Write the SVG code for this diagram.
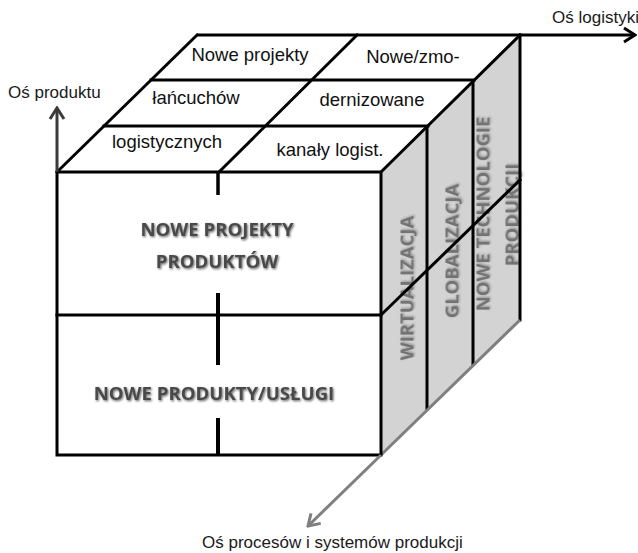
<svg xmlns="http://www.w3.org/2000/svg" width="638" height="553" viewBox="0 0 638 553">
  <style>
    .edge { fill: none; stroke: #000; stroke-width: 3; stroke-linecap: square; }
    .axis-label { font-family: "Liberation Sans", Arial, sans-serif; font-size: 17px; fill: #1a1a1a; }
    .top-label { font-family: "Liberation Sans", Arial, sans-serif; font-size: 18.5px; fill: #111; text-anchor: middle; }
    .face-label { font-family: "Open Sans", "Liberation Sans", sans-serif; font-weight: bold; font-size: 18.6px; fill: #4a4a4a; text-anchor: middle; filter: url(#shade); }
    .side-label { font-family: "Open Sans", "Liberation Sans", sans-serif; font-weight: bold; font-size: 18.5px; fill: #737373; text-anchor: middle; filter: url(#shade-soft); }
  </style>
  <defs>
    <filter id="shade" x="-10%" y="-40%" width="120%" height="180%">
      <feDropShadow dx="1" dy="1.2" stdDeviation="1.2" flood-color="#000" flood-opacity="0.6"/>
    </filter>
    <filter id="shade-soft" x="-40%" y="-10%" width="180%" height="120%">
      <feDropShadow dx="1" dy="1" stdDeviation="0.8" flood-color="#000" flood-opacity="0.3"/>
    </filter>
    <marker id="head-dark" markerUnits="userSpaceOnUse" viewBox="-14 -9 16 18" refX="0" refY="0" markerWidth="16" markerHeight="18" orient="auto">
      <path d="M-11,-7 L0,0 L-11,7" fill="none" stroke="#3a3a3a" stroke-width="3"/>
    </marker>
    <marker id="head-black" markerUnits="userSpaceOnUse" viewBox="-14 -9 16 18" refX="0" refY="0" markerWidth="16" markerHeight="18" orient="auto">
      <path d="M-11,-7 L0,0 L-11,7" fill="none" stroke="#000" stroke-width="3"/>
    </marker>
    <marker id="head-grey" markerUnits="userSpaceOnUse" viewBox="-14 -9 16 18" refX="0" refY="0" markerWidth="16" markerHeight="18" orient="auto">
      <path d="M-11,-7 L0,0 L-11,7" fill="none" stroke="#7f7f7f" stroke-width="3"/>
    </marker>
  </defs>

  <rect width="638" height="553" fill="#fff"/>

  <!-- right-hand face of the cube: labels first, grid lines on top -->
  <g id="side-face">
    <polygon points="381,172 520,35 520,320 381,455" fill="#d3d3d3"/>
    <text class="side-label" transform="translate(413.5,288) rotate(-90)">WIRTUALIZACJA</text>
    <text class="side-label" transform="translate(458.5,251) rotate(-90)">GLOBALIZACJA</text>
    <text class="side-label" transform="translate(489.5,214) rotate(-90)">NOWE TECHNOLOGIE</text>
    <text class="side-label" transform="translate(518.5,215) rotate(-90)">PRODUKCJI</text>
    <line class="edge" x1="427" y1="126" x2="427" y2="409"/>
    <line class="edge" x1="473" y1="80" x2="473" y2="364"/>
    <line class="edge" x1="520" y1="35" x2="520" y2="320"/>
    <line class="edge" x1="381" y1="315" x2="520" y2="180"/>
    <line x1="381" y1="455" x2="520" y2="320" stroke="#7f7f7f" stroke-width="3"/>
  </g>

  <!-- top face of the cube -->
  <g id="top-face">
    <polygon points="57,172 197,35 520,35 381,172" fill="#fff"/>
    <line class="edge" x1="151" y1="80" x2="474" y2="80"/>
    <line class="edge" x1="104" y1="126" x2="428" y2="126"/>
    <line class="edge" x1="219" y1="172" x2="357" y2="35"/>
    <line class="edge" x1="57" y1="172" x2="197" y2="35"/>
    <line class="edge" x1="381" y1="172" x2="520" y2="35"/>
    <text class="top-label" x="250" y="61">Nowe projekty</text>
    <text class="top-label" x="413" y="63">Nowe/zmo-</text>
    <text class="top-label" x="196" y="104">łańcuchów</text>
    <text class="top-label" x="372" y="106">dernizowane</text>
    <text class="top-label" x="167" y="148">logistycznych</text>
    <text class="top-label" x="330" y="156">kanały logist.</text>
  </g>

  <!-- front face of the cube -->
  <g id="front-face">
    <rect x="57" y="172" width="324" height="283" fill="#fff"/>
    <line class="edge" x1="57" y1="315" x2="381" y2="315"/>
    <line x1="218" y1="172" x2="218" y2="195" stroke="#000" stroke-width="3.5"/>
    <line x1="218" y1="293" x2="218" y2="365" stroke="#000" stroke-width="4"/>
    <line x1="218" y1="418" x2="218" y2="455" stroke="#000" stroke-width="4"/>
    <rect class="edge" x="57" y="172" width="324" height="283"/>
    <text class="face-label" x="217" y="236">NOWE PROJEKTY</text>
    <text class="face-label" x="217" y="268">PRODUKTÓW</text>
    <text class="face-label" x="214" y="400">NOWE PRODUKTY/USŁUGI</text>
  </g>

  <!-- axes -->
  <g id="connectors">
    <line x1="57" y1="172" x2="57" y2="108" stroke="#3a3a3a" stroke-width="3" marker-end="url(#head-dark)"/>
    <line x1="197" y1="35" x2="635" y2="35" stroke="#000" stroke-width="3" marker-end="url(#head-black)"/>
    <line x1="381" y1="455" x2="308" y2="526" stroke="#7f7f7f" stroke-width="3" marker-end="url(#head-grey)"/>
  </g>

  <g id="axis-labels">
    <text class="axis-label" x="8" y="98">Oś produktu</text>
    <text class="axis-label" x="552" y="23">Oś logistyki</text>
    <text class="axis-label" x="202" y="548">Oś procesów i systemów produkcji</text>
  </g>
</svg>
